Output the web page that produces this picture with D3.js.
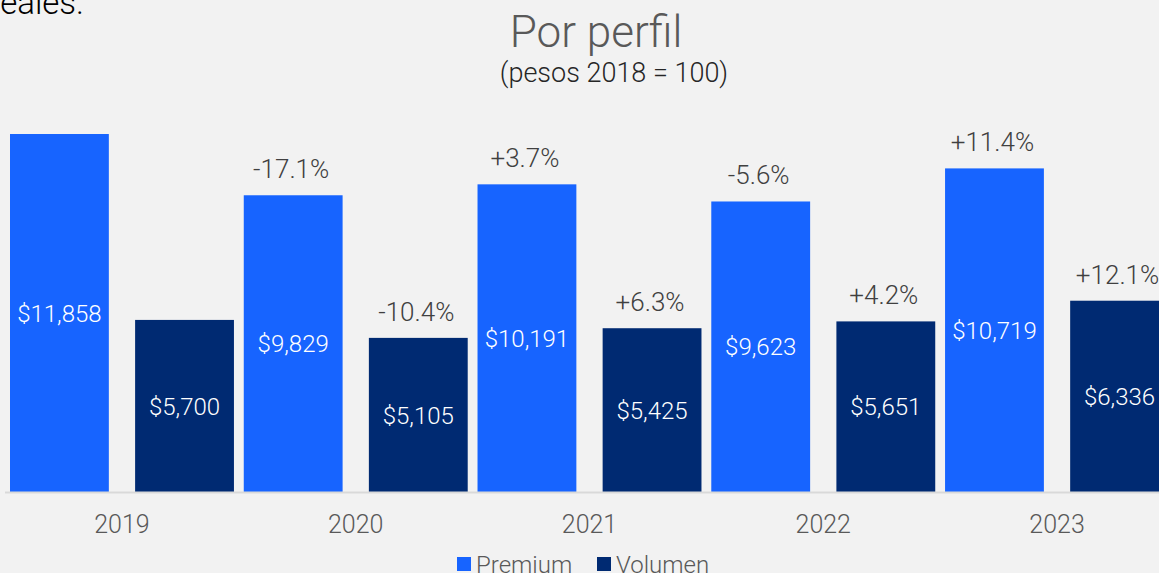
<!DOCTYPE html>
<html>
<head>
<meta charset="utf-8">
<script src="https://cdn.jsdelivr.net/npm/d3@7"></script>
<style>
  html, body { margin: 0; padding: 0; background: #f2f2f2; overflow: hidden; }
  svg { display: block; font-family: Roboto, Inter, sans-serif; font-weight: 300; }
</style>
</head>
<body>
<script>
const years = ["2019", "2020", "2021", "2022", "2023"];
const seriesNames = ["Premium", "Volumen"];
const premium = [11858, 9829, 10191, 9623, 10719];
const volumen = [5700, 5105, 5425, 5651, 6336];
const premiumChange = [null, "-17.1%", "+3.7%", "-5.6%", "+11.4%"];
const volumenChange = [null, "-10.4%", "+6.3%", "+4.2%", "+12.1%"];
const colors = { Premium: "#1764ff", Volumen: "#002a72" };

const width = 1159, height = 573;
const baseline = 492;

const svg = d3.select("body")
    .append("svg")
    .attr("width", width)
    .attr("height", height);

const x = d3.scaleBand()
    .domain(years)
    .range([10, 1169])
    .paddingInner(0.042)
    .paddingOuter(0);

const xs = d3.scaleBand()
    .domain(seriesNames)
    .range([0, x.bandwidth()])
    .paddingInner(0.21)
    .paddingOuter(0);

const y = d3.scaleLinear()
    .domain([0, 16297])
    .range([baseline, 0]);

// text above the chart, partly cut off
svg.append("text")
    .attr("x", 84)
    .attr("y", 14)
    .attr("text-anchor", "end")
    .style("font-size", "33px")
    .style("fill", "#000")
    .text("reales.");

svg.append("text")
    .attr("x", 596)
    .attr("y", 47)
    .attr("text-anchor", "middle")
    .style("font-size", "44px")
    .style("fill", "#595959")
    .text("Por perfil");

svg.append("text")
    .attr("x", 614)
    .attr("y", 82)
    .attr("text-anchor", "middle")
    .style("font-size", "27px")
    .style("fill", "#262626")
    .text("(pesos 2018 = 100)");

const data = years.map((yr, i) => ({
    year: yr,
    values: [
        { name: "Premium", value: premium[i], change: premiumChange[i] },
        { name: "Volumen", value: volumen[i], change: volumenChange[i] }
    ]
}));

const groups = svg.selectAll("g.year")
    .data(data)
    .enter()
    .append("g")
    .attr("class", "year")
    .attr("transform", d => `translate(${x(d.year)},0)`);

const bars = groups.selectAll("g.bar")
    .data(d => d.values)
    .enter()
    .append("g")
    .attr("class", "bar");

bars.append("rect")
    .attr("x", d => xs(d.name))
    .attr("y", d => y(d.value))
    .attr("width", xs.bandwidth())
    .attr("height", d => baseline - y(d.value))
    .attr("fill", d => colors[d.name]);

bars.append("text")
    .attr("x", d => xs(d.name) + xs.bandwidth() / 2)
    .attr("y", d => (y(d.value) + baseline) / 2)
    .attr("dy", "0.36em")
    .attr("text-anchor", "middle")
    .style("font-size", "24px")
    .style("fill", "#ffffff")
    .text(d => "$" + d3.format(",")(d.value));

bars.filter(d => d.change)
    .append("text")
    .attr("x", d => xs(d.name) + xs.bandwidth() / 2 - 2)
    .attr("y", d => y(d.value) - 17)
    .attr("text-anchor", "middle")
    .style("font-size", "26px")
    .style("fill", "#404040")
    .text(d => d.change);

// baseline axis
svg.append("line")
    .attr("x1", 5)
    .attr("x2", width)
    .attr("y1", baseline + 0.5)
    .attr("y2", baseline + 0.5)
    .attr("stroke", "#d9d9d9")
    .attr("stroke-width", 2);

svg.selectAll("text.cat")
    .data(years)
    .enter()
    .append("text")
    .attr("class", "cat")
    .attr("x", d => x(d) + x.bandwidth() / 2)
    .attr("y", 533)
    .attr("text-anchor", "middle")
    .style("font-size", "25px")
    .style("fill", "#595959")
    .text(d => d);

// legend
const legend = svg.append("g");
const legendX = [457, 597];
seriesNames.forEach((name, i) => {
    legend.append("rect")
        .attr("x", legendX[i])
        .attr("y", 557)
        .attr("width", 14)
        .attr("height", 14)
        .attr("fill", colors[name]);
    legend.append("text")
        .attr("x", legendX[i] + 19)
        .attr("y", 573)
        .style("font-size", "24px")
        .style("fill", "#595959")
        .text(name);
});
</script>
</body>
</html>
